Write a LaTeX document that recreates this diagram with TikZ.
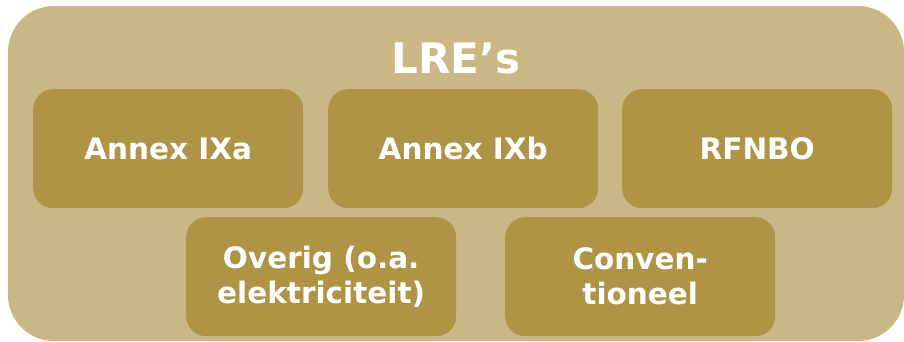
\documentclass[tikz,border=0pt]{standalone}
\usepackage{fontspec}
\setmainfont{DejaVu Sans}
\definecolor{outerfill}{RGB}{201,184,134}
\definecolor{innerfill}{RGB}{175,148,70}
\begin{document}
\begin{tikzpicture}[x=1pt,y=-1pt,
  catbox/.style={fill=innerfill, draw=none, rounded corners=20pt,
    minimum width=270pt, minimum height=119pt, inner sep=0pt,
    text=white, font=\bfseries\fontsize{29.5}{35}\selectfont,
    align=center, anchor=north west}]
  \useasboundingbox (0,0) rectangle (904,341);
  % outer container
  \fill[outerfill, rounded corners=46pt] (8,6) rectangle (904,341);
  \node[text=white, font=\bfseries\fontsize{42}{48}\selectfont] (title) at (456,58) {LRE’s};
  % top row
  \node[catbox] (ixa) at (33,89) {Annex IXa};
  \node[catbox] (ixb) at (328,89) {Annex IXb};
  \node[catbox] (rfnbo) at (622,89) {RFNBO};
  % bottom row
  \node[catbox] (overig) at (186,217) {Overig (o.a.\\elektriciteit)};
  \node[catbox] (conv) at (505,217) {Conven-\\tioneel};
\end{tikzpicture}
\end{document}
